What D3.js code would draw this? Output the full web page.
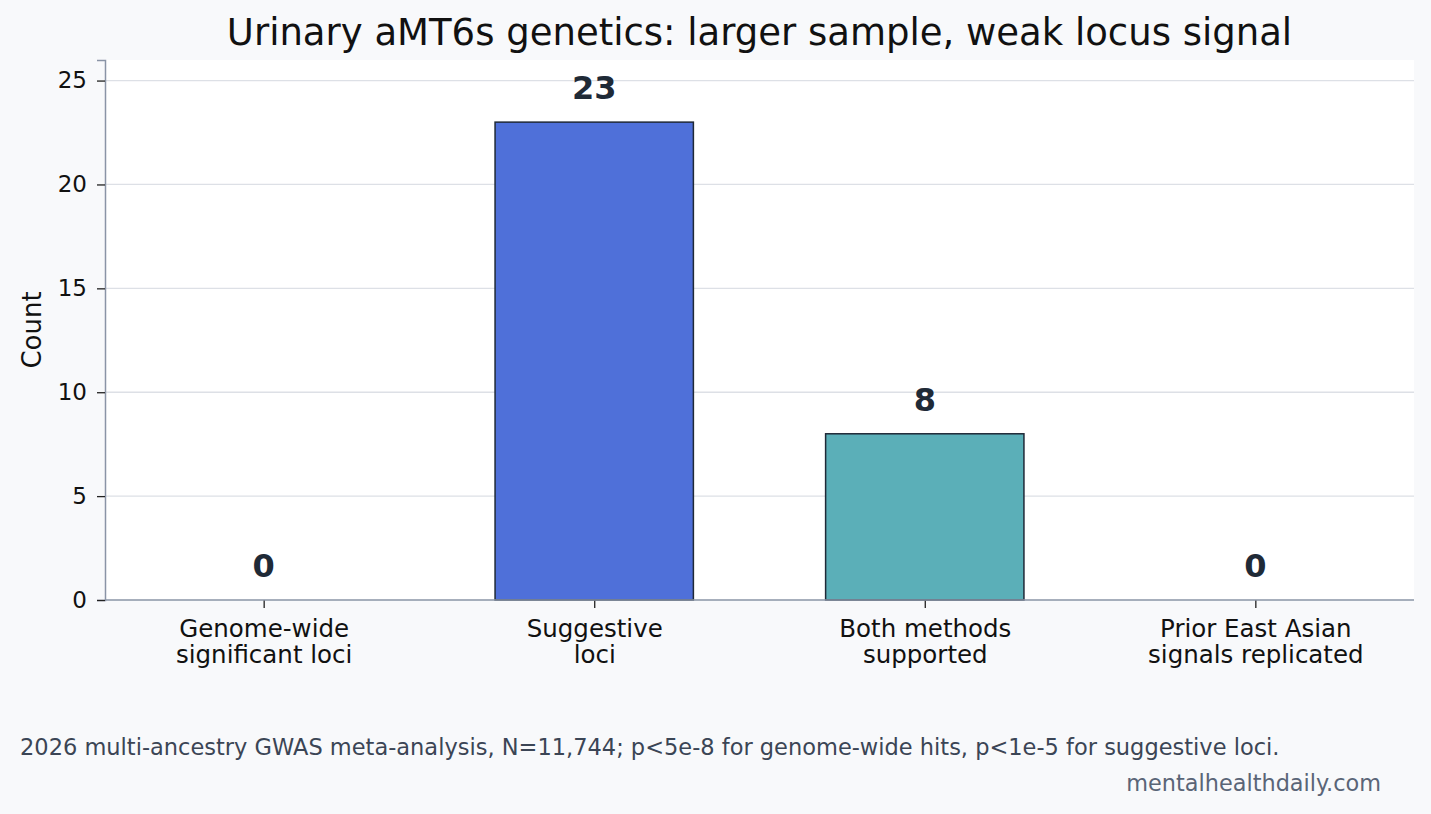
<!DOCTYPE html>
<html>
<head>
<meta charset="utf-8">
<script src="https://cdn.jsdelivr.net/npm/d3@7"></script>
<style>
  body { margin: 0; background: #f8f9fb; }
  svg { display: block; font-family: "DejaVu Sans", sans-serif; }
</style>
</head>
<body>
<svg id="chart" width="1431" height="814"></svg>
<script>
const categories = ["Genome-wide\nsignificant loci", "Suggestive\nloci", "Both methods\nsupported", "Prior East Asian\nsignals replicated"];
const counts = [0, 23, 8, 0];
const barColors = ["#4f70d9", "#4f70d9", "#5bafb8", "#5bafb8"];
const yTicks = [0, 5, 10, 15, 20, 25];

const svg = d3.select("#chart");
const width = +svg.attr("width");
const height = +svg.attr("height");

const margin = {top: 60, right: 17, bottom: 214, left: 105};
const innerWidth = width - margin.left - margin.right;
const innerHeight = height - margin.top - margin.bottom;

svg.append("rect").attr("width", width).attr("height", height).attr("fill", "#f8f9fb");

// title
svg.append("text")
  .attr("x", margin.left + innerWidth / 2)
  .attr("y", 45)
  .attr("text-anchor", "middle")
  .attr("font-size", 37)
  .attr("fill", "#111")
  .text("Urinary aMT6s genetics: larger sample, weak locus signal");

const g = svg.append("g")
  .attr("transform", "translate(" + margin.left + "," + margin.top + ")");

g.append("rect").attr("width", innerWidth).attr("height", innerHeight).attr("fill", "#fff");

// x positions like matplotlib: bars of 0.6 with 5% margins
const xScale = d3.scaleLinear()
  .domain([-0.48, categories.length - 1 + 0.48])
  .range([0, innerWidth]);
const barW = xScale(0.6) - xScale(0);

const yScale = d3.scaleLinear()
  .domain([0, d3.max(counts) * 1.13])
  .range([innerHeight, 0]);

// grid
g.append("g")
  .selectAll("line")
  .data(yTicks.filter(d => d > 0))
  .enter().append("line")
    .attr("x1", 0).attr("x2", innerWidth)
    .attr("y1", d => yScale(d)).attr("y2", d => yScale(d))
    .attr("stroke", "#dde0e6").attr("stroke-width", 1.3);

// bars
g.selectAll(".bar")
  .data(counts)
  .enter().append("rect")
    .attr("class", "bar")
    .attr("x", (d, i) => xScale(i) - barW / 2)
    .attr("y", d => yScale(d))
    .attr("width", barW)
    .attr("height", d => innerHeight - yScale(d))
    .attr("fill", (d, i) => barColors[i])
    .attr("stroke", d => d > 0 ? "#1f2937" : "none")
    .attr("stroke-width", 1.5);

// value labels
g.selectAll(".val")
  .data(counts)
  .enter().append("text")
    .attr("class", "val")
    .attr("x", (d, i) => xScale(i))
    .attr("y", d => yScale(d) - 23)
    .attr("text-anchor", "middle")
    .attr("font-size", 32)
    .attr("font-weight", "bold")
    .attr("fill", "#1f2a37")
    .text(d => d);

// y axis
const yAxis = d3.axisLeft(yScale).tickValues(yTicks).tickSize(8).tickPadding(10);
const yAxisG = g.append("g").call(yAxis);
yAxisG.select(".domain").attr("stroke", "#8a94a6").attr("stroke-width", 1.5);
yAxisG.selectAll(".tick line").attr("stroke", "#222").attr("stroke-width", 1.3);
yAxisG.selectAll(".tick text").attr("font-size", 23).attr("fill", "#111").attr("font-family", "DejaVu Sans");

// x axis
const xAxis = d3.axisBottom(xScale).tickValues(d3.range(categories.length)).tickSize(8).tickFormat("");
const xAxisG = g.append("g").attr("transform", "translate(0," + innerHeight + ")").call(xAxis);
xAxisG.select(".domain").remove();
xAxisG.selectAll(".tick line").attr("stroke", "#222").attr("stroke-width", 1.3);
g.append("line")
  .attr("x1", 0).attr("x2", innerWidth)
  .attr("y1", innerHeight).attr("y2", innerHeight)
  .attr("stroke", "#8a94a6").attr("stroke-width", 1.5);

xAxisG.selectAll(".tick").append("text")
  .attr("text-anchor", "middle")
  .attr("font-size", 24.5)
  .attr("fill", "#111")
  .attr("font-family", "DejaVu Sans")
  .each(function(d) {
    const lines = categories[d].split("\n");
    d3.select(this).selectAll("tspan")
      .data(lines)
      .enter().append("tspan")
        .attr("x", 0)
        .attr("y", (l, i) => 37 + i * 26)
        .text(l => l);
  });

// y label
svg.append("text")
  .attr("transform", "translate(41," + (margin.top + innerHeight / 2) + ") rotate(-90)")
  .attr("text-anchor", "middle")
  .attr("font-size", 26)
  .attr("fill", "#111")
  .text("Count");

// footnote and source
svg.append("text")
  .attr("x", 20).attr("y", 755)
  .attr("font-size", 22.5)
  .attr("fill", "#3b4555")
  .text("2026 multi-ancestry GWAS meta-analysis, N=11,744; p<5e-8 for genome-wide hits, p<1e-5 for suggestive loci.");

svg.append("text")
  .attr("x", 1381).attr("y", 791)
  .attr("text-anchor", "end")
  .attr("font-size", 22.4)
  .attr("fill", "#5a6577")
  .text("mentalhealthdaily.com");
</script>
</body>
</html>
